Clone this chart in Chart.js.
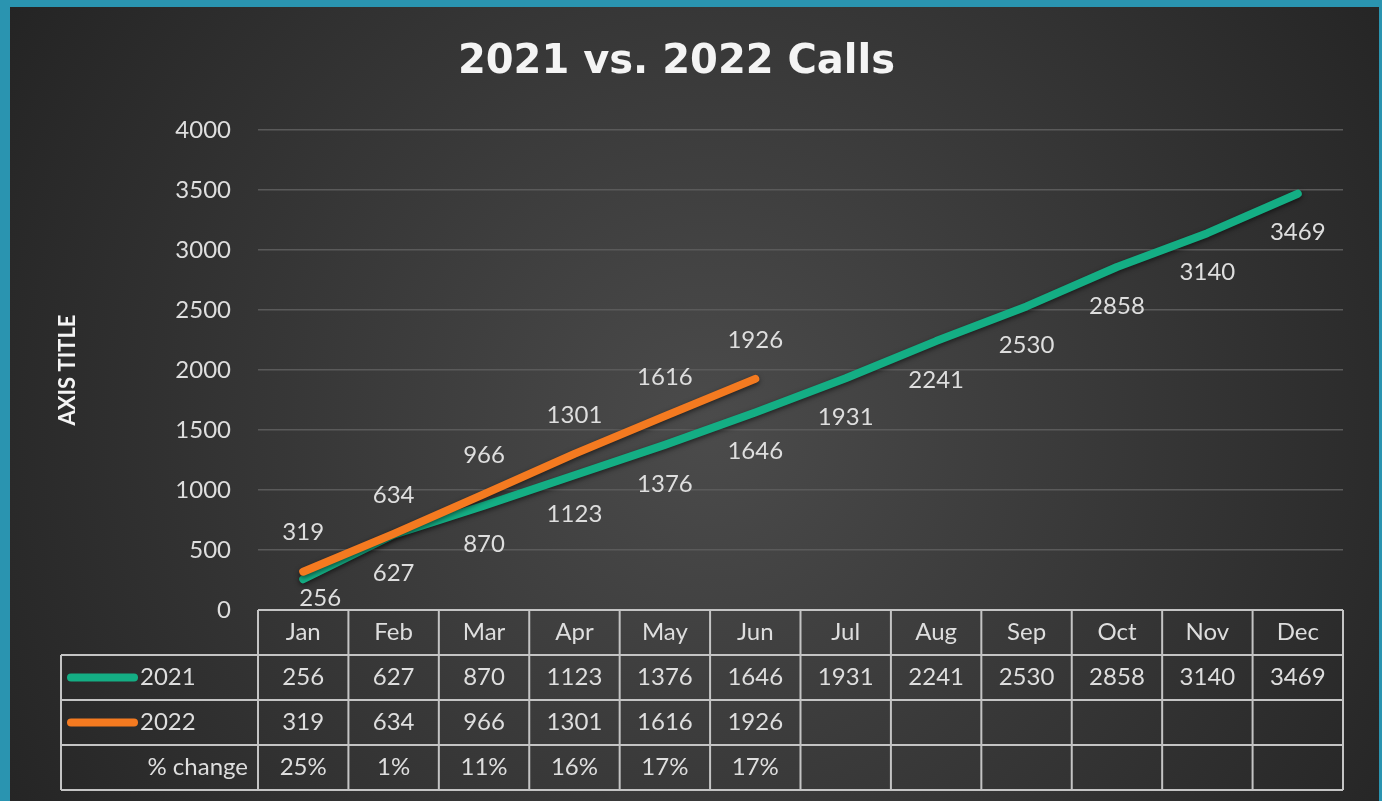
<!DOCTYPE html>
<html>
<head>
<meta charset="utf-8">
<script src="https://cdn.jsdelivr.net/npm/chart.js@4"></script>
<style>
  html, body { margin: 0; padding: 0; background: #2a94b0; overflow: hidden; }
  #wrap { position: absolute; left: 10px; top: 7px; width: 1369px; height: 794px; }
</style>
</head>
<body>
<div id="wrap"><canvas id="calls"></canvas></div>
<script>
const months = ['Jan','Feb','Mar','Apr','May','Jun','Jul','Aug','Sep','Oct','Nov','Dec'];
const calls2021 = [256, 627, 870, 1123, 1376, 1646, 1931, 2241, 2530, 2858, 3140, 3469];
const calls2022 = [319, 634, 966, 1301, 1616, 1926];
const pctChange = [25, 1, 11, 16, 17, 17];

const green = '#14ae84';
const orange = '#f47a20';
const textCol = '#dedede';

Chart.defaults.font.family = 'Lato';

// dark radial background
const bgPlugin = {
  id: 'bg',
  beforeDraw(chart) {
    const ctx = chart.ctx;
    const w = chart.width, h = chart.height;
    const g = ctx.createRadialGradient(700, 420, 0, 700, 420, 820);
    g.addColorStop(0, '#4b4b4b');
    g.addColorStop(1, '#242424');
    ctx.save();
    ctx.fillStyle = g;
    ctx.fillRect(0, 0, w, h);
    ctx.restore();
  }
};

// soft shadow under the lines
const shadowPlugin = {
  id: 'lineShadow',
  beforeDatasetsDraw(chart) {
    const ctx = chart.ctx;
    ctx.save();
    ctx.shadowColor = 'rgba(0,0,0,0.55)';
    ctx.shadowBlur = 5;
    ctx.shadowOffsetY = 2;
  },
  afterDatasetsDraw(chart) {
    chart.ctx.restore();
  }
};

// value labels: 2021 below, 2022 above
const labelPlugin = {
  id: 'valueLabels',
  afterDatasetsDraw(chart) {
    const ctx = chart.ctx;
    const area = chart.chartArea;
    ctx.save();
    ctx.font = '24px Lato';
    ctx.fillStyle = textCol;
    ctx.textAlign = 'center';
    ctx.textBaseline = 'middle';
    chart.data.datasets.forEach((ds, di) => {
      const meta = chart.getDatasetMeta(di);
      meta.data.forEach((pt, i) => {
        let x = pt.x;
        let y = ds.label === '2021' ? pt.y + 39 : pt.y - 39;
        if (y > area.bottom - 12) { y = area.bottom - 12; x += 17; }
        ctx.fillText(String(ds.data[i]), x, y);
      });
    });
    ctx.restore();
  }
};

// data table under the plot
const tablePlugin = {
  id: 'dataTable',
  afterDraw(chart) {
    const ctx = chart.ctx;
    const area = chart.chartArea;
    const xs = chart.scales.x;
    const colW = (area.right - area.left) / months.length;
    const rowH = 45;
    const top = area.bottom;
    const legendLeft = 51;
    const bottom = top + rowH * 4;

    ctx.save();
    ctx.strokeStyle = '#c4c4c4';
    ctx.lineWidth = 2;
    ctx.beginPath();
    ctx.moveTo(area.left, top); ctx.lineTo(area.right, top);
    for (let r = 1; r <= 4; r++) {
      ctx.moveTo(legendLeft, top + rowH * r);
      ctx.lineTo(area.right, top + rowH * r);
    }
    for (let c = 0; c <= months.length; c++) {
      const x = area.left + colW * c;
      ctx.moveTo(x, top); ctx.lineTo(x, bottom);
    }
    ctx.moveTo(legendLeft, top + rowH); ctx.lineTo(legendLeft, bottom);
    ctx.stroke();

    ctx.font = '24px Lato';
    ctx.fillStyle = textCol;
    ctx.textAlign = 'center';
    ctx.textBaseline = 'middle';
    months.forEach((m, i) => {
      const cx = xs.getPixelForValue(i);
      ctx.fillText(m, cx, top + rowH * 0.5);
      if (calls2021[i] !== undefined) ctx.fillText(String(calls2021[i]), cx, top + rowH * 1.5);
      if (calls2022[i] !== undefined) ctx.fillText(String(calls2022[i]), cx, top + rowH * 2.5);
      if (pctChange[i] !== undefined) ctx.fillText(pctChange[i] + '%', cx, top + rowH * 3.5);
    });

    // legend keys
    const keys = [[green, '2021', 1.5], [orange, '2022', 2.5]];
    keys.forEach(([col, txt, r]) => {
      const y = top + rowH * r;
      ctx.strokeStyle = col;
      ctx.lineWidth = 8;
      ctx.lineCap = 'round';
      ctx.beginPath();
      ctx.moveTo(61, y); ctx.lineTo(124, y);
      ctx.stroke();
      ctx.textAlign = 'left';
      ctx.fillText(txt, 130, y);
    });
    ctx.textAlign = 'right';
    ctx.fillText('% change', 238, top + rowH * 3.5);
    ctx.restore();
  }
};

new Chart(document.getElementById('calls'), {
  type: 'line',
  data: {
    labels: months,
    datasets: [{
      label: '2021',
      data: calls2021,
      borderColor: green,
      backgroundColor: green,
      borderWidth: 8,
      borderCapStyle: 'round',
      borderJoinStyle: 'round',
      pointRadius: 0,
      order: 1
    }, {
      label: '2022',
      data: calls2022,
      borderColor: orange,
      backgroundColor: orange,
      borderWidth: 8,
      borderCapStyle: 'round',
      borderJoinStyle: 'round',
      pointRadius: 0,
      order: 0
    }]
  },
  options: {
    responsive: true,
    maintainAspectRatio: false,
    animation: false,
    layout: { padding: { left: 0, right: 36, top: 0, bottom: 0 } },
    plugins: {
      legend: { display: false },
      tooltip: { enabled: false },
      title: {
        display: true,
        text: '2021 vs. 2022 Calls',
        color: '#f4f4f4',
        font: { family: 'DejaVu Sans', size: 40, weight: 'bold', lineHeight: 1.2 },
        padding: { top: 32, bottom: 43 }
      }
    },
    scales: {
      x: {
        offset: true,
        grid: { display: false, drawTicks: false },
        border: { display: false },
        ticks: { display: false },
        afterFit(scale) { scale.height = 191; }
      },
      y: {
        min: 0,
        max: 4000,
        ticks: {
          stepSize: 500,
          color: textCol,
          font: { size: 24 },
          padding: 27,
          callback: (v) => String(v)
        },
        grid: { color: '#5a5a5a', lineWidth: 1.5, drawTicks: false },
        border: { display: false },
        title: {
          display: true,
          text: 'AXIS TITLE',
          color: '#f4f4f4',
          font: { size: 22, weight: 'bold' },
          padding: { top: 45, bottom: 0 }
        },
        afterFit(scale) { scale.width = 248; }
      }
    }
  },
  plugins: [bgPlugin, shadowPlugin, labelPlugin, tablePlugin]
});
</script>
</body>
</html>
